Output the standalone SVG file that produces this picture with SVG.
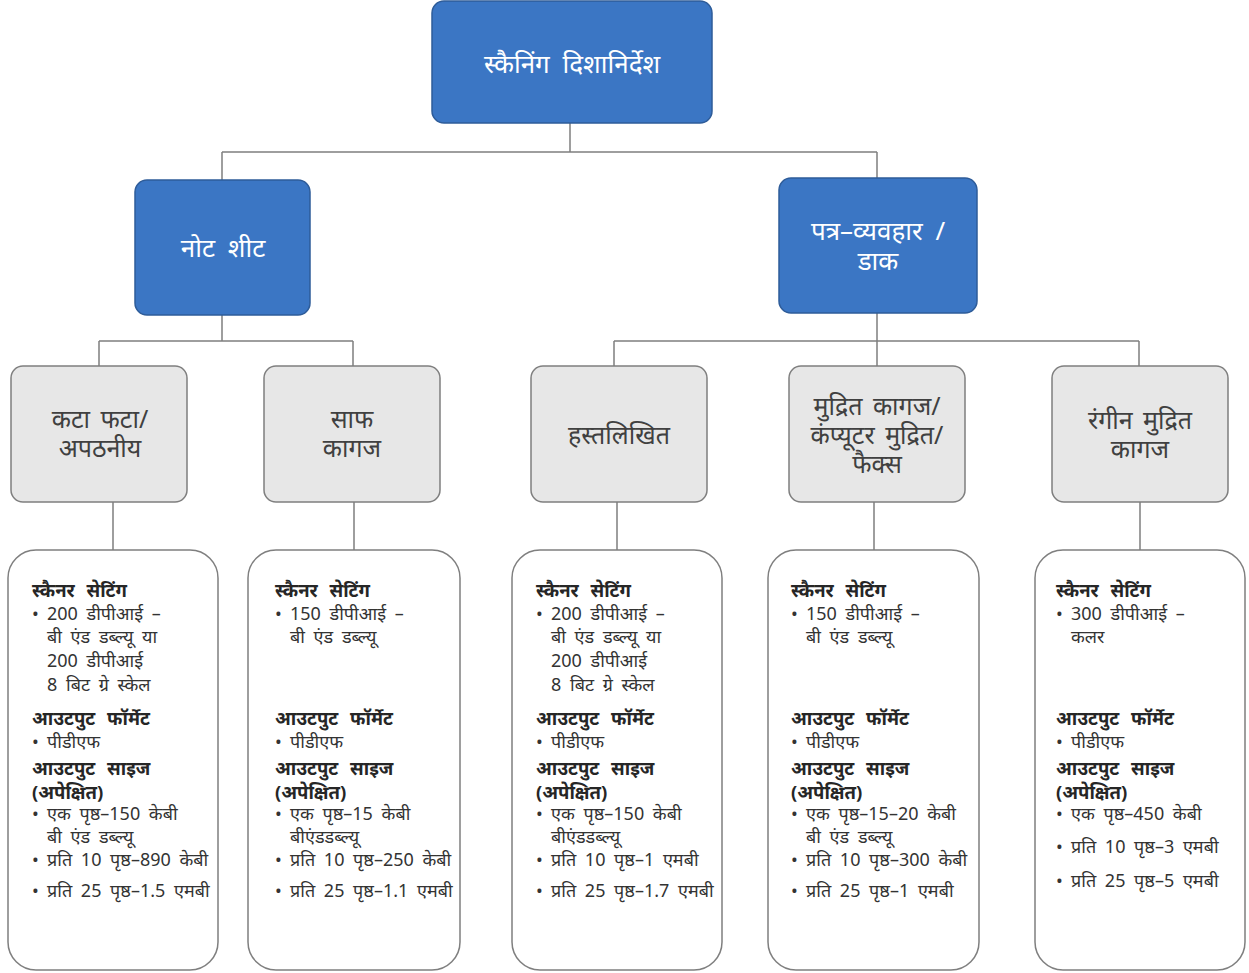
<svg xmlns="http://www.w3.org/2000/svg" width="1249" height="973" viewBox="0 0 1249 973">
<style>
text{font-family:"Noto Sans","Liberation Sans",sans-serif;}
.blue{fill:#3B76C4;stroke:#2E5C99;stroke-width:1.5}
.grey{fill:#E7E7E7;stroke:#7F7F7F;stroke-width:1.5}
.det{fill:#FFFFFF;stroke:#7F7F7F;stroke-width:1.5}
.tw{fill:#FFFFFF;font-size:26px;text-anchor:middle;word-spacing:6px}
.tg{fill:#404040;font-size:25px;text-anchor:middle;word-spacing:4px}
.h{fill:#262626;font-size:18.5px;font-weight:bold;word-spacing:7px}
.b{fill:#333333;font-size:18px;word-spacing:4px}
.con{fill:none;stroke:#7F7F7F;stroke-width:1.5}
</style>
<g id="connectors">
<path class="con" d="M570 123V152M222 152H877M222 152V180M877 152V178"/>
<path class="con" d="M222 315V341M99 341H353M99 341V366M353 341V366"/>
<path class="con" d="M877 313V341M614 341H1139M614 341V366M877 341V366M1139 341V366"/>
<path class="con" d="M113 502V550M354 502V550M617 502V550M874 502V550M1140 502V550"/>
</g>
<g id="root"><rect class="blue" x="432" y="1" width="280" height="122" rx="12"/><text class="tw" x="572" y="73">स्कैनिंग दिशानिर्देश</text></g>
<g id="notesheet"><rect class="blue" x="135" y="180" width="175" height="135" rx="12"/><text class="tw" x="223" y="257">नोट शीट</text></g>
<g id="correspondence"><rect class="blue" x="779" y="178" width="198" height="135" rx="12"/><text class="tw" x="878" y="240">पत्र–व्यवहार /</text><text class="tw" x="878" y="270">डाक</text></g>
<g id="torn"><rect class="grey" x="11" y="366" width="176" height="136" rx="12"/><text class="tg" x="100" y="428">कटा फटा/</text><text class="tg" x="100" y="457">अपठनीय</text></g>
<g id="clean"><rect class="grey" x="264" y="366" width="176" height="136" rx="12"/><text class="tg" x="352" y="428">साफ</text><text class="tg" x="352" y="457">कागज</text></g>
<g id="handwritten"><rect class="grey" x="531" y="366" width="176" height="136" rx="12"/><text class="tg" x="619" y="444">हस्तलिखित</text></g>
<g id="printed"><rect class="grey" x="789" y="366" width="176" height="136" rx="12"/><text class="tg" x="877" y="415">मुद्रित कागज/</text><text class="tg" x="877" y="444">कंप्यूटर मुद्रित/</text><text class="tg" x="877" y="473">फैक्स</text></g>
<g id="colour"><rect class="grey" x="1052" y="366" width="176" height="136" rx="12"/><text class="tg" x="1140" y="429">रंगीन मुद्रित</text><text class="tg" x="1140" y="458">कागज</text></g>
<g id="detail1"><rect class="det" x="8" y="550" width="210" height="420" rx="28"/>
<text class="h" x="32" y="597">स्कैनर सेटिंग</text>
<text class="b" x="32" y="620">•</text><text class="b" x="47" y="620">200 डीपीआई –</text><text class="b" x="47" y="643">बी एंड डब्ल्यू या</text><text class="b" x="47" y="667">200 डीपीआई</text><text class="b" x="47" y="691">8 बिट ग्रे स्केल</text>
<text class="h" x="32" y="725">आउटपुट फॉर्मेट</text><text class="b" x="32" y="748">•</text><text class="b" x="47" y="748">पीडीएफ</text>
<text class="h" x="32" y="775">आउटपुट साइज</text><text class="h" x="32" y="799">(अपेक्षित)</text>
<text class="b" x="32" y="820">•</text><text class="b" x="47" y="820">एक पृष्ठ–150 केबी</text><text class="b" x="47" y="843">बी एंड डब्ल्यू</text><text class="b" x="32" y="866">•</text><text class="b" x="47" y="866">प्रति 10 पृष्ठ–890 केबी</text><text class="b" x="32" y="897">•</text><text class="b" x="47" y="897">प्रति 25 पृष्ठ–1.5 एमबी</text>
</g>
<g id="detail2"><rect class="det" x="248" y="550" width="212" height="420" rx="28"/>
<text class="h" x="275" y="597">स्कैनर सेटिंग</text>
<text class="b" x="275" y="620">•</text><text class="b" x="290" y="620">150 डीपीआई –</text><text class="b" x="290" y="643">बी एंड डब्ल्यू</text>
<text class="h" x="275" y="725">आउटपुट फॉर्मेट</text><text class="b" x="275" y="748">•</text><text class="b" x="290" y="748">पीडीएफ</text>
<text class="h" x="275" y="775">आउटपुट साइज</text><text class="h" x="275" y="799">(अपेक्षित)</text>
<text class="b" x="275" y="820">•</text><text class="b" x="290" y="820">एक पृष्ठ–15 केबी</text><text class="b" x="290" y="843">बीएंडडब्ल्यू</text><text class="b" x="275" y="866">•</text><text class="b" x="290" y="866">प्रति 10 पृष्ठ–250 केबी</text><text class="b" x="275" y="897">•</text><text class="b" x="290" y="897">प्रति 25 पृष्ठ–1.1 एमबी</text>
</g>
<g id="detail3"><rect class="det" x="512" y="550" width="210" height="420" rx="28"/>
<text class="h" x="536" y="597">स्कैनर सेटिंग</text>
<text class="b" x="536" y="620">•</text><text class="b" x="551" y="620">200 डीपीआई –</text><text class="b" x="551" y="643">बी एंड डब्ल्यू या</text><text class="b" x="551" y="667">200 डीपीआई</text><text class="b" x="551" y="691">8 बिट ग्रे स्केल</text>
<text class="h" x="536" y="725">आउटपुट फॉर्मेट</text><text class="b" x="536" y="748">•</text><text class="b" x="551" y="748">पीडीएफ</text>
<text class="h" x="536" y="775">आउटपुट साइज</text><text class="h" x="536" y="799">(अपेक्षित)</text>
<text class="b" x="536" y="820">•</text><text class="b" x="551" y="820">एक पृष्ठ–150 केबी</text><text class="b" x="551" y="843">बीएंडडब्ल्यू</text><text class="b" x="536" y="866">•</text><text class="b" x="551" y="866">प्रति 10 पृष्ठ–1 एमबी</text><text class="b" x="536" y="897">•</text><text class="b" x="551" y="897">प्रति 25 पृष्ठ–1.7 एमबी</text>
</g>
<g id="detail4"><rect class="det" x="768" y="550" width="211" height="420" rx="28"/>
<text class="h" x="791" y="597">स्कैनर सेटिंग</text>
<text class="b" x="791" y="620">•</text><text class="b" x="806" y="620">150 डीपीआई –</text><text class="b" x="806" y="643">बी एंड डब्ल्यू</text>
<text class="h" x="791" y="725">आउटपुट फॉर्मेट</text><text class="b" x="791" y="748">•</text><text class="b" x="806" y="748">पीडीएफ</text>
<text class="h" x="791" y="775">आउटपुट साइज</text><text class="h" x="791" y="799">(अपेक्षित)</text>
<text class="b" x="791" y="820">•</text><text class="b" x="806" y="820">एक पृष्ठ–15–20 केबी</text><text class="b" x="806" y="843">बी एंड डब्ल्यू</text><text class="b" x="791" y="866">•</text><text class="b" x="806" y="866">प्रति 10 पृष्ठ–300 केबी</text><text class="b" x="791" y="897">•</text><text class="b" x="806" y="897">प्रति 25 पृष्ठ–1 एमबी</text>
</g>
<g id="detail5"><rect class="det" x="1035" y="550" width="210" height="420" rx="28"/>
<text class="h" x="1056" y="597">स्कैनर सेटिंग</text>
<text class="b" x="1056" y="620">•</text><text class="b" x="1071" y="620">300 डीपीआई –</text><text class="b" x="1071" y="643">कलर</text>
<text class="h" x="1056" y="725">आउटपुट फॉर्मेट</text><text class="b" x="1056" y="748">•</text><text class="b" x="1071" y="748">पीडीएफ</text>
<text class="h" x="1056" y="775">आउटपुट साइज</text><text class="h" x="1056" y="799">(अपेक्षित)</text>
<text class="b" x="1056" y="820">•</text><text class="b" x="1071" y="820">एक पृष्ठ–450 केबी</text><text class="b" x="1056" y="853">•</text><text class="b" x="1071" y="853">प्रति 10 पृष्ठ–3 एमबी</text><text class="b" x="1056" y="887">•</text><text class="b" x="1071" y="887">प्रति 25 पृष्ठ–5 एमबी</text>
</g>
</svg>
